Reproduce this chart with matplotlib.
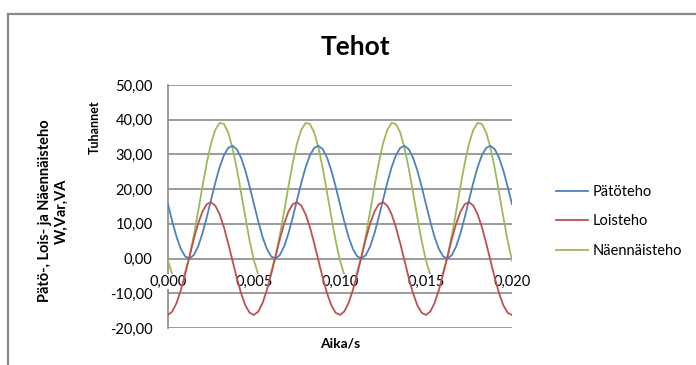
import numpy as np
import matplotlib.pyplot as plt
from matplotlib.lines import Line2D

plt.rcParams['font.family'] = ['Lato', 'DejaVu Sans']

# time axis (s), sampled every 0.25 ms
aika = np.linspace(0.0, 0.020, 81)

# powers in thousands (W, var, VA)
patoteho = [
    15.64, 10.65, 6.21, 2.75, 0.62, 0.01, 1.00, 3.47, 7.20, 11.82,
    16.86, 21.85, 26.29, 29.75, 31.88, 32.49, 31.50, 29.03, 25.30, 20.68,
    15.64, 10.65, 6.21, 2.75, 0.62, 0.01, 1.00, 3.47, 7.20, 11.82,
    16.86, 21.85, 26.29, 29.75, 31.88, 32.49, 31.50, 29.03, 25.30, 20.68,
    15.64, 10.65, 6.21, 2.75, 0.62, 0.01, 1.00, 3.47, 7.20, 11.82,
    16.86, 21.85, 26.29, 29.75, 31.88, 32.49, 31.50, 29.03, 25.30, 20.68,
    15.64, 10.65, 6.21, 2.75, 0.62, 0.01, 1.00, 3.47, 7.20, 11.82,
    16.86, 21.85, 26.29, 29.75, 31.88, 32.49, 31.50, 29.03, 25.30, 20.68,
    15.64,
]
loisteho = [
    -16.24, -15.25, -12.78, -9.05, -4.43, 0.61, 5.60, 10.04, 13.50, 15.63,
    16.24, 15.25, 12.78, 9.05, 4.43, -0.61, -5.60, -10.04, -13.50, -15.63,
    -16.24, -15.25, -12.78, -9.05, -4.43, 0.61, 5.60, 10.04, 13.50, 15.63,
    16.24, 15.25, 12.78, 9.05, 4.43, -0.61, -5.60, -10.04, -13.50, -15.63,
    -16.24, -15.25, -12.78, -9.05, -4.43, 0.61, 5.60, 10.04, 13.50, 15.63,
    16.24, 15.25, 12.78, 9.05, 4.43, -0.61, -5.60, -10.04, -13.50, -15.63,
    -16.24, -15.25, -12.78, -9.05, -4.43, 0.61, 5.60, 10.04, 13.50, 15.63,
    16.24, 15.25, 12.78, 9.05, 4.43, -0.61, -5.60, -10.04, -13.50, -15.63,
    -16.24,
]
naennaisteho = [
    -0.60, -4.60, -6.57, -6.30, -3.82, 0.62, 6.60, 13.51, 20.70, 27.45,
    33.10, 37.10, 39.07, 38.80, 36.31, 31.88, 25.90, 18.99, 11.80, 5.05,
    -0.60, -4.60, -6.57, -6.30, -3.82, 0.62, 6.60, 13.51, 20.70, 27.45,
    33.10, 37.10, 39.07, 38.80, 36.31, 31.88, 25.90, 18.99, 11.80, 5.05,
    -0.60, -4.60, -6.57, -6.30, -3.82, 0.62, 6.60, 13.51, 20.70, 27.45,
    33.10, 37.10, 39.07, 38.80, 36.31, 31.88, 25.90, 18.99, 11.80, 5.05,
    -0.60, -4.60, -6.57, -6.30, -3.82, 0.62, 6.60, 13.51, 20.70, 27.45,
    33.10, 37.10, 39.07, 38.80, 36.31, 31.88, 25.90, 18.99, 11.80, 5.05,
    -0.60,
]

sarjat = ['Pätöteho', 'Loisteho', 'Näennäisteho']
varit = ['#4f81bd', '#c0504d', '#9bbb59']

y_ticks = [-20, -10, 0, 10, 20, 30, 40, 50]
x_ticks = [0.000, 0.005, 0.010, 0.015, 0.020]

W, H = 696, 365
fig = plt.figure(figsize=(W / 100, H / 100), dpi=100)

# spreadsheet chart border (top and left edges)
grey = '#8a8a8a'
fig.add_artist(Line2D([8 / W, 1], [1 - 14 / H] * 2, color=grey, lw=1.6))
fig.add_artist(Line2D([8 / W] * 2, [0, 1 - 14 / H], color=grey, lw=1.6))

ax = fig.add_axes([168 / W, 1 - 328 / H, (512 - 168) / W, (328 - 85) / H])

# green goes under the x labels, blue and red over them
zorders = [6, 6, 3]
for y, nimi, vari, z in zip([patoteho, loisteho, naennaisteho], sarjat,
                            varit, zorders):
    ax.plot(aika, y, color=vari, lw=1.3, label=nimi, zorder=z)

ax.set_xlim(0, 0.020)
ax.set_ylim(-20, 50)
ax.set_yticks(y_ticks)
ax.set_yticklabels([f'{v:.2f}'.replace('.', ',') for v in y_ticks], fontsize=10.5)
ax.set_xticks(x_ticks)
ax.set_xticklabels([])
ax.tick_params(length=0, pad=11)
ax.grid(axis='y', color=grey, lw=1.2)
for s in ['top', 'right', 'bottom']:
    ax.spines[s].set_visible(False)
ax.spines['left'].set_color(grey)
ax.spines['left'].set_linewidth(1.2)

# x labels sit below the zero line
for x in x_ticks:
    ax.annotate(f'{x:.3f}'.replace('.', ','), (x, 0), xytext=(0, -16.5),
                textcoords='offset points', ha='center', va='center',
                fontsize=10.5, zorder=5,
                bbox=dict(facecolor='white', edgecolor='none', pad=0.2))

fig.text(355 / W, 1 - 47 / H, 'Tehot', ha='center', va='center',
         fontsize=19, fontweight='bold')
fig.text(340 / W, 1 - 343 / H, 'Aika/s', ha='center', va='center',
         fontsize=10, fontweight='bold')
fig.text(53 / W, 1 - 211 / H, 'Pätö-, Lois- ja Näennäisteho\nW,Var,VA',
         ha='center', va='center', rotation=90, fontsize=10.5,
         fontweight='bold', linespacing=1.25)
fig.text(95 / W, 1 - 127 / H, 'Tuhannet', ha='center', va='center',
         rotation=90, fontsize=9, fontweight='bold')

fig.legend(loc='upper left', bbox_to_anchor=(556 / W, 1 - 185 / H),
           frameon=False, fontsize=10.5, handlelength=2.2,
           handletextpad=0.3, labelspacing=1.05, borderpad=0,
           borderaxespad=0)

fig.savefig('out.png', dpi=100)
